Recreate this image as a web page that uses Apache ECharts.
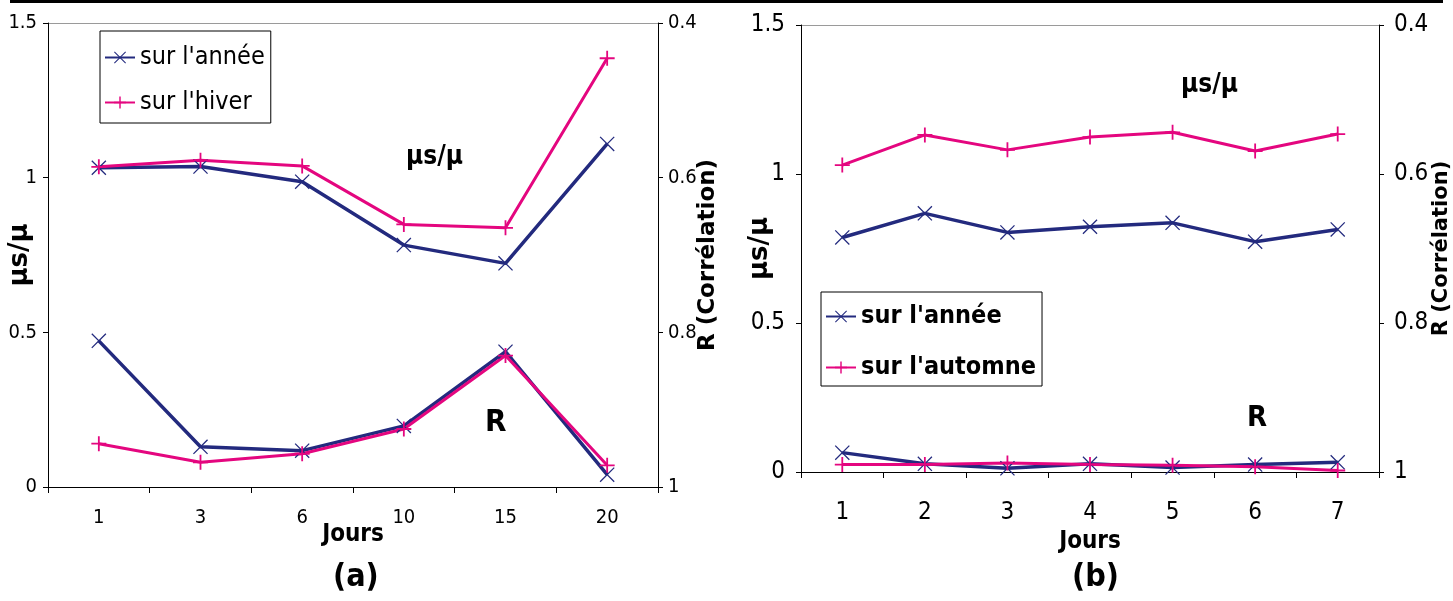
<!DOCTYPE html>
<html><head><meta charset="utf-8">
<script src="https://cdn.jsdelivr.net/npm/echarts@6/dist/echarts.min.js"></script>
<style>html,body{margin:0;padding:0;background:#fff}#c{width:1453px;height:601px}</style>
</head><body><div id="c"></div>
<script>
// ---------- data ----------
const catsA = ['1', '3', '6', '10', '15', '20'];
const musAnneeA = [1.032, 1.036, 0.987, 0.782, 0.723, 1.109];
const musHiverA = [1.035, 1.056, 1.038, 0.849, 0.838, 1.386];
const rAnneeA = [0.811, 0.948, 0.953, 0.921, 0.825, 0.984];
const rHiverA = [0.944, 0.968, 0.957, 0.925, 0.830, 0.972];

const catsB = ['1', '2', '3', '4', '5', '6', '7'];
const musAnneeB = [0.787, 0.868, 0.804, 0.823, 0.836, 0.773, 0.814];
const musAutomneB = [1.030, 1.131, 1.081, 1.124, 1.140, 1.077, 1.134];
const rAnneeB = [0.974, 0.989, 0.995, 0.989, 0.994, 0.990, 0.987];
const rAutomneB = [0.990, 0.990, 0.988, 0.990, 0.991, 0.993, 0.998];

const muTicks = [0, 0.5, 1, 1.5];
const rTicks = [0.4, 0.6, 0.8, 1];

const nameAnnee = "sur l'année";
const nameHiver = "sur l'hiver";
const nameAutomne = "sur l'automne";

// ---------- style ----------
const BLUE = '#232a7e';
const PINK = '#e4067f';
const NARROW = "'Liberation Sans Narrow','Arial Narrow','DejaVu Sans Condensed',sans-serif";
const WIDE = "'DejaVu Sans','Liberation Sans',sans-serif";
const PLUS = 'path://M4.4,0H5.6V10H4.4Z M0,4.4H10V5.6H0Z';
const CROSS = 'path://M0.6,0L10,9.4L9.4,10L0,0.6Z M9.4,0L10,0.6L0.6,10L0,9.4Z';

function ser(name, data, idx, yIdx, color, sym, lw) {
  return {
    type: 'line', name: name, data: data,
    xAxisIndex: idx, yAxisIndex: yIdx,
    symbol: sym, symbolSize: 15, showSymbol: true,
    lineStyle: { color: color, width: lw },
    itemStyle: { color: color },
    emphasis: { disabled: true },
    animation: false
  };
}

const transp = 'rgba(0,0,0,0)';
function muAxis(grid, fs, margin, gap, nfs) {
  return {
    type: 'value', gridIndex: grid, position: 'left',
    min: muTicks[0], max: muTicks[muTicks.length - 1], interval: muTicks[1] - muTicks[0],
    name: 'µs/µ', nameLocation: 'middle', nameGap: gap, nameRotate: 90, nameMoveOverlap: false,
    nameTextStyle: { fontFamily: WIDE, fontWeight: 'bold', fontSize: nfs, color: '#000' },
    axisLine: { show: true, lineStyle: { color: '#000', width: 1 } },
    axisTick: { show: true, length: 5, lineStyle: { color: '#000' } },
    axisLabel: { fontFamily: NARROW, fontSize: fs, color: '#000', margin: margin,
      formatter: v => String(+v.toFixed(1)) },
    splitLine: { show: true, lineStyle: { color: [transp, transp, transp, '#9a9a9a'], width: 1 } }
  };
}
function rAxis(grid, fs, margin, gap, nfs) {
  return {
    type: 'value', gridIndex: grid, position: 'right', inverse: true,
    min: rTicks[0], max: rTicks[rTicks.length - 1], interval: rTicks[1] - rTicks[0],
    name: 'R (Corrélation)', nameLocation: 'middle', nameGap: gap, nameRotate: 90, nameMoveOverlap: false,
    nameTextStyle: { fontFamily: WIDE, fontWeight: 'bold', fontSize: nfs, color: '#000' },
    axisLine: { show: true, lineStyle: { color: '#000', width: 1 } },
    axisTick: { show: true, length: 5, lineStyle: { color: '#000' } },
    axisLabel: { fontFamily: NARROW, fontSize: fs, color: '#000', margin: margin,
      formatter: v => String(+v.toFixed(1)) },
    splitLine: { show: false }
  };
}
function xAx(grid, cats, fs, margin, gap) {
  return {
    type: 'category', gridIndex: grid, data: cats, boundaryGap: true,
    name: 'Jours', nameLocation: 'middle', nameGap: gap, nameMoveOverlap: false,
    nameTextStyle: { fontFamily: NARROW, fontWeight: 'bold', fontSize: 24, color: '#000' },
    axisLine: { show: true, onZero: false, lineStyle: { color: '#000', width: 1 } },
    axisTick: { show: true, alignWithLabel: false, length: 6, lineStyle: { color: '#000' } },
    axisLabel: { fontFamily: NARROW, fontSize: fs, color: '#000', margin: margin },
    splitLine: { show: false }
  };
}

const option = {
  backgroundColor: '#fff',
  animation: false,
  grid: [
    { left: 48, top: 23, width: 610, height: 464, containLabel: false },
    { left: 801, top: 25, width: 579, height: 447, containLabel: false }
  ],
  xAxis: [xAx(0, catsA, 20, 21, 36), xAx(1, catsB, 24, 29, 58)],
  yAxis: [muAxis(0, 20, 11, 15, 26), rAxis(0, 20, 10, 39, 23), muAxis(1, 24, 16, 28, 26), rAxis(1, 24, 15, 52, 21)],
  legend: [
    { left: 100, top: 31, orient: 'vertical', data: [nameAnnee, nameHiver], selectedMode: false,
      borderColor: '#000', borderWidth: 1, padding: [14, 6, 8, 4], itemGap: 20,
      itemWidth: 30, itemHeight: 15,
      textStyle: { fontFamily: NARROW, fontSize: 25, color: '#000' } },
    { left: 821, top: 292, orient: 'vertical', data: [nameAnnee, nameAutomne], selectedMode: false,
      borderColor: '#000', borderWidth: 1, padding: [12, 6, 6, 4], itemGap: 26,
      itemWidth: 30, itemHeight: 15,
      textStyle: { fontFamily: NARROW, fontWeight: 'bold', fontSize: 25, color: '#000' } }
  ],
  graphic: [
    { type: 'rect', left: 10, top: 0, shape: { width: 1433, height: 3 }, style: { fill: '#000' } },
    { type: 'text', left: 406, top: 144, style: { text: 'µs/µ', font: "bold 26px " + NARROW, fill: '#000' } },
    { type: 'text', left: 485, top: 407, style: { text: 'R', font: "bold 31px " + NARROW, fill: '#000' } },
    { type: 'text', left: 1181, top: 72, style: { text: 'µs/µ', font: "bold 26px " + NARROW, fill: '#000' } },
    { type: 'text', left: 1247, top: 404, style: { text: 'R', font: "bold 29px " + NARROW, fill: '#000' } },
    { type: 'text', left: 333, top: 562, style: { text: '(a)', font: "bold 32px " + NARROW, fill: '#000' } },
    { type: 'text', left: 1072, top: 562, style: { text: '(b)', font: "bold 32px " + NARROW, fill: '#000' } }
  ],
  series: [
    ser(nameAnnee, musAnneeA, 0, 0, BLUE, CROSS, 3.5),
    ser(nameHiver, musHiverA, 0, 0, PINK, PLUS, 3),
    ser(nameAnnee, rAnneeA, 0, 1, BLUE, CROSS, 3.5),
    ser(nameHiver, rHiverA, 0, 1, PINK, PLUS, 3),
    ser(nameAnnee, musAnneeB, 1, 2, BLUE, CROSS, 3.5),
    ser(nameAutomne, musAutomneB, 1, 2, PINK, PLUS, 3),
    ser(nameAnnee, rAnneeB, 1, 3, BLUE, CROSS, 3.5),
    ser(nameAutomne, rAutomneB, 1, 3, PINK, PLUS, 3)
  ]
};
const chart = echarts.init(document.getElementById('c'), null, { renderer: 'canvas' });
chart.setOption(option);
</script>
</body></html>
